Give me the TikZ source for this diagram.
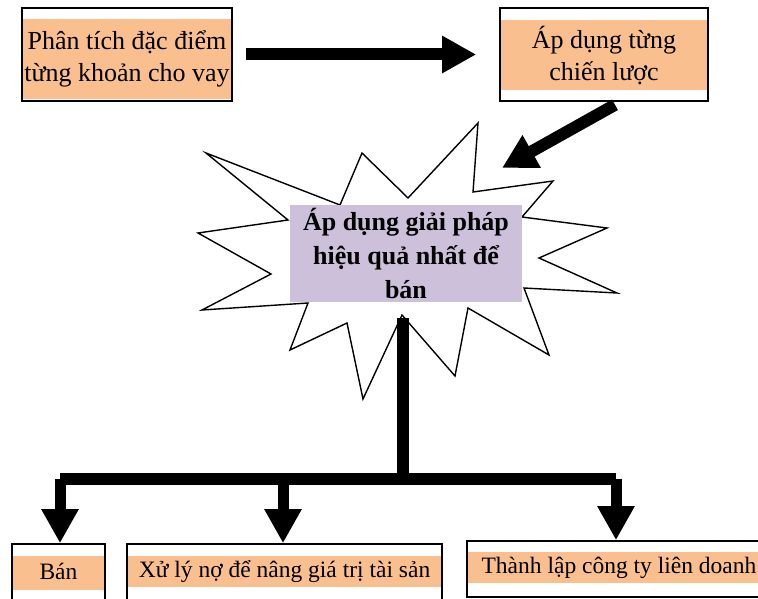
\documentclass[tikz,border=0pt]{standalone}
\usepackage{fontspec}
\setmainfont{Liberation Serif}
\usetikzlibrary{arrows.meta}
\definecolor{peach}{RGB}{250,191,143}
\definecolor{lilac}{RGB}{204,192,218}

\begin{document}
\begin{tikzpicture}[
x=1pt,
y=-1pt,
frame/.style={
  draw,
  line width=1.6pt,
  inner sep=0pt
  },
shade/.style={
  fill=peach,
  inner sep=0pt,
  align=center
  },
big/.style={
  font=\fontsize{26}{32}\selectfont
  },
small/.style={
  font=\fontsize{23.5}{28}\selectfont,
  text height=17pt,
  text depth=5pt
  },
fat/.style={
  line width=12pt,
  -{Triangle[length=34pt,width=35pt]}
  },
bus/.style={
  line width=12pt
  },
>=latex
]
\useasboundingbox (0,0) rectangle (758,599);

% top boxes
\node[shade, big, minimum width=208pt, minimum height=80pt] (analyseText) at (127,59) {Phân tích đặc điểm\\từng khoản cho vay};
\node[frame, minimum width=210pt, minimum height=93pt] (analyse) at (127,54.5) {};
\node[shade, big, minimum width=206pt, minimum height=70pt] (applyText) at (604,55) {Áp dụng từng\\chiến lược};
\node[frame, minimum width=208pt, minimum height=93pt] (apply) at (604,54.5) {};

% burst
\draw[line width=1.4pt, fill=white, line join=miter]
  (206,153) -- (340,205) -- (362,153) -- (408,198) -- (478,123) -- (473,192)
  -- (553,181) -- (522,217) -- (607,228) -- (539,258) -- (617,293) -- (524,288)
  -- (549,355) -- (468,308) -- (455,376) -- (402,315) -- (363,399) -- (347,323)
  -- (290,350) -- (308,303) -- (202,310) -- (271,274) -- (198,233) -- (288,220)
  -- cycle;
\node[fill=lilac, minimum width=232pt, minimum height=97pt, align=center,
  font=\bfseries\fontsize{26}{34}\selectfont] (best) at (406,253.5)
  {Áp dụng giải pháp\\hiệu quả nhất để\\bán};

\draw[fat] ([xshift=13pt]analyse.east) -- ([xshift=-23pt]apply.west);
\coordinate (hit) at (502,168);
\draw[fat] ([xshift=11pt,yshift=-3pt]apply.south) -- (hit);

% bottom boxes
\node[shade, small, minimum width=92pt, minimum height=34pt] (banText) at (58.5,573) {Bán};
\node[frame, minimum width=93pt, minimum height=70pt] (ban) at (58.5,579) {};
\node[shade, small, minimum width=313pt, minimum height=31pt] (xulyText) at (284.5,571.5) {Xử lý nợ để nâng giá trị tài sản};
\node[frame, minimum width=315pt, minimum height=70pt] (xuly) at (284.5,579) {};
\node[shade, small, minimum width=302pt, minimum height=31pt] (lienDoanhText) at (619,567.5) {Thành lập công ty liên doanh};
\node[frame, minimum width=310pt, minimum height=56pt] (lienDoanh) at (622,569) {};

\coordinate (stem) at (403,318);
\coordinate (hub) at (403,479);
\draw[bus] (stem) -- (hub);
\draw[bus] (60,479) -- (616,479);
\foreach \x/\n in {60/ban, 283/xuly, 616/lienDoanh}
{
  \coordinate (d\n) at (\x,479);
  \draw[fat, line width=11pt] (d\n) -- (d\n |- \n.north);
}

\end{tikzpicture}
\end{document}
